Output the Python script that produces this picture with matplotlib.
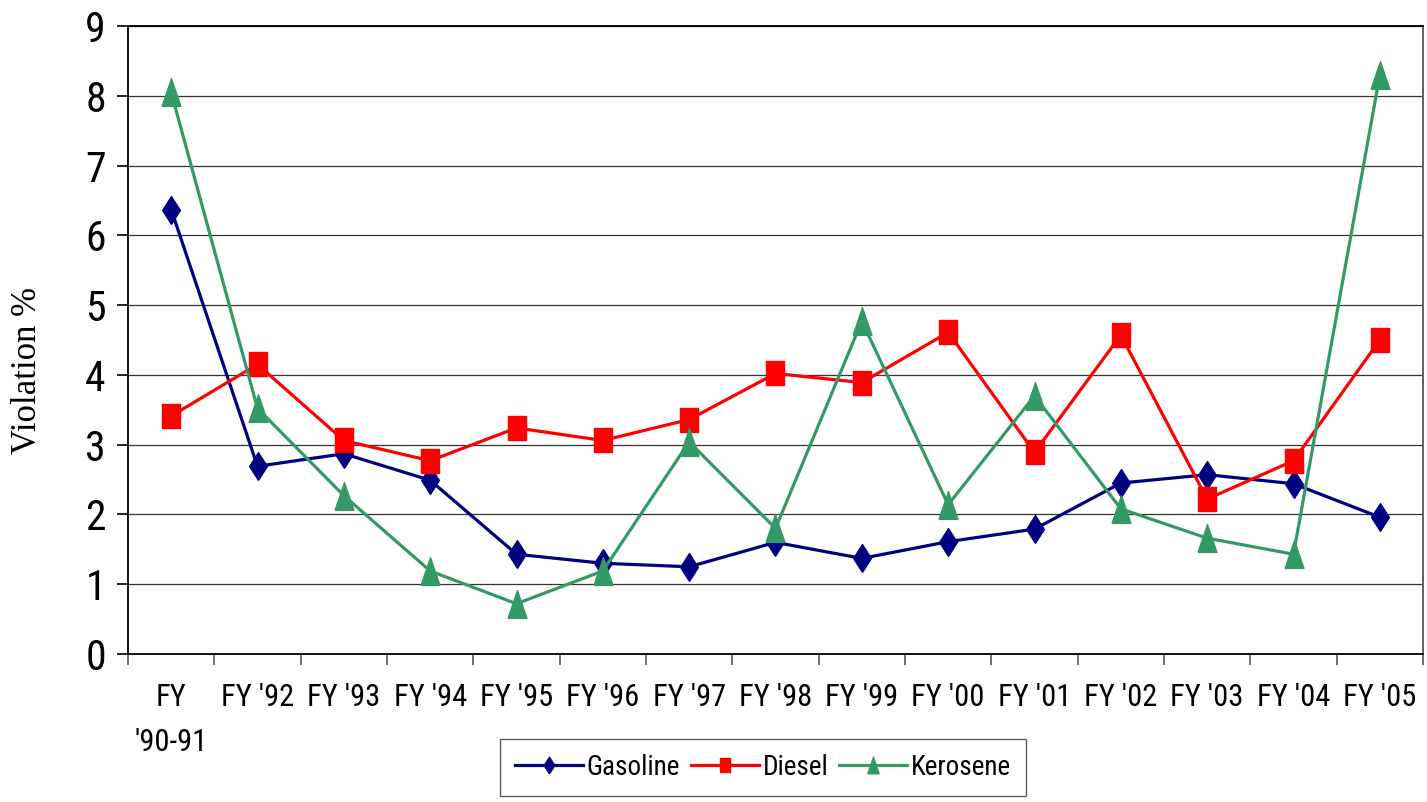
import matplotlib
matplotlib.use("Agg")
import matplotlib.pyplot as plt
from matplotlib import font_manager as fm
import numpy as np

categories = ["FY\n'90-91", "FY '92", "FY '93", "FY '94", "FY '95", "FY '96", "FY '97",
              "FY '98", "FY '99", "FY '00", "FY '01", "FY '02", "FY '03", "FY '04", "FY '05"]
gasoline = [6.37, 2.69, 2.87, 2.49, 1.43, 1.30, 1.25, 1.60, 1.37, 1.61, 1.79, 2.45, 2.57, 2.44, 1.96]
diesel = [3.41, 4.15, 3.06, 2.77, 3.24, 3.06, 3.36, 4.02, 3.89, 4.61, 2.89, 4.57, 2.22, 2.77, 4.50]
kerosene = [8.05, 3.52, 2.27, 1.19, 0.72, 1.19, 3.04, 1.80, 4.77, 2.14, 3.70, 2.08, 1.66, 1.43, 8.30]
yticks = list(range(0, 10))


def find_narrow():
    fonts = fm.fontManager.ttflist
    prefs = ['liberation sans narrow', 'arial narrow', 'roboto condensed',
             'open sans condensed', 'dejavu sans condensed', 'noto sans condensed']
    for p in prefs:
        for f in fonts:
            if f.name.lower() == p and f.weight in (400, 'normal', 'regular') and f.style == 'normal':
                return fm.FontProperties(fname=f.fname), f.name
    for f in fonts:
        st = str(f.stretch).lower()
        if ('condensed' in st or 'narrow' in st or 'condensed' in f.fname.lower()
                or 'narrow' in f.fname.lower()) and f.style == 'normal' \
                and 'bold' not in f.fname.lower() and 'semi' not in st and 'extra' not in st:
            return fm.FontProperties(fname=f.fname), f.name
    return fm.FontProperties(family=['Roboto', 'Liberation Sans', 'DejaVu Sans']), None


narrow_fp, narrow_name = find_narrow()
scale = 1.0 if narrow_name else 0.78


def nfp(size):
    p = narrow_fp.copy()
    p.set_size(size * scale)
    return p


serif = ['Liberation Serif', 'DejaVu Serif']

fig = plt.figure(figsize=(14.27, 8.02), dpi=100)
ax = fig.add_axes([128/1427, 1-654/802, (1423-128)/1427, (654-26)/802])

diamond = [(0, -1), (0.64, 0), (0, 1), (-0.64, 0), (0, -1)]
square = [(-0.7, -1), (0.7, -1), (0.7, 1), (-0.7, 1), (-0.7, -1)]
triangle = [(-0.68, -1), (0.68, -1), (0, 1), (-0.68, -1)]

x = np.arange(len(categories))
ax.plot(x, gasoline, color='#000080', lw=2.3, marker=diamond, ms=20, label='Gasoline', zorder=3)
ax.plot(x, diesel, color='#FF0000', lw=2.3, marker=square, ms=17.5, label='Diesel', zorder=4)
ax.plot(x, kerosene, color='#339966', lw=2.3, marker=triangle, ms=20, label='Kerosene', zorder=5)

ax.set_xlim(-0.5, len(categories) - 0.5)
ax.set_ylim(0, 9)
ax.set_yticks(yticks)
ax.set_yticklabels([str(t) for t in yticks], fontproperties=nfp(30))
ax.set_xticks(x)
ax.set_xticklabels(categories, fontproperties=nfp(22), linespacing=1.7, va='top')
ax.set_xticks(np.arange(-0.5, len(categories), 1.0), minor=True)
ax.tick_params(axis='x', which='major', length=0, pad=21)
ax.tick_params(axis='x', which='minor', length=8, width=1.2, color='#555555')
ax.tick_params(axis='y', length=8, width=1.2, pad=8)

ax.grid(axis='y', color='#333333', lw=0.9)
ax.set_axisbelow(True)
for s in ['left', 'bottom', 'top']:
    ax.spines[s].set_color('black')
    ax.spines[s].set_linewidth(1.3)
ax.spines['right'].set_color('#555555')
ax.spines['right'].set_linewidth(1.3)

fig.text(27/1427, 1-370/802, 'Violation %', family=serif, fontsize=25,
         rotation=90, ha='center', va='center')

leg = fig.legend(loc='upper center', bbox_to_anchor=(763/1427, 1-739/802), ncol=3,
                 prop=nfp(19.5), frameon=True, fancybox=False,
                 edgecolor='#333333', handlelength=2.5, handletextpad=0.15, columnspacing=0.4,
                 borderpad=0.55, borderaxespad=0, markerscale=0.6)
leg.get_frame().set_linewidth(1.0)

fig.savefig('out.png', dpi=100)
